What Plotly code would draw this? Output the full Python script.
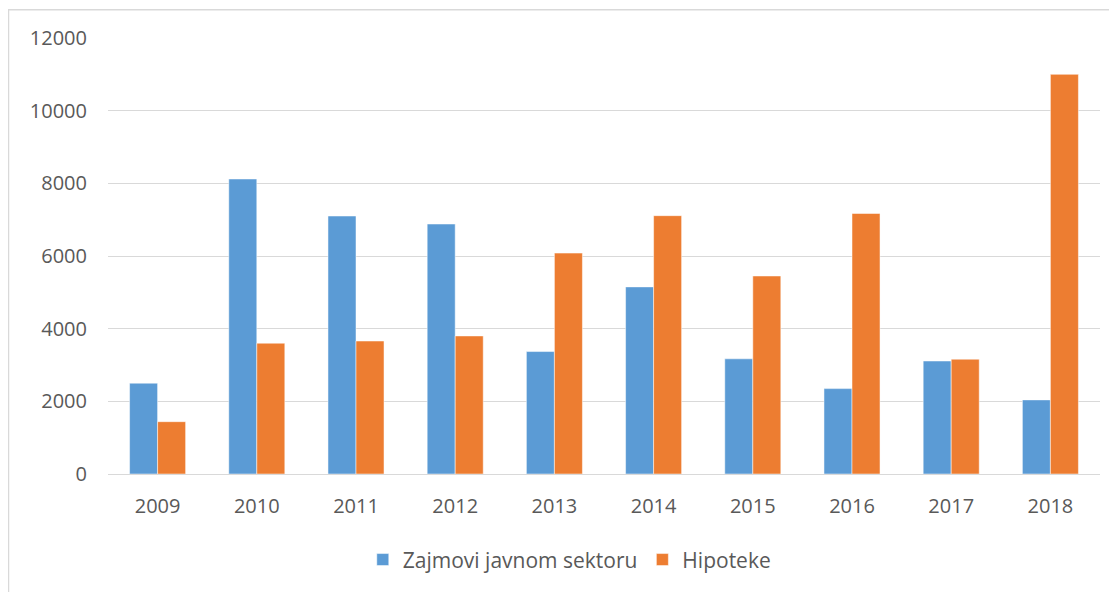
import plotly.graph_objects as go

years = ["2009", "2010", "2011", "2012", "2013", "2014", "2015", "2016", "2017", "2018"]
zajmovi = [2500, 8120, 7100, 6880, 3370, 5150, 3170, 2350, 3110, 2040]
hipoteke = [1440, 3600, 3660, 3800, 6080, 7110, 5450, 7170, 3160, 11000]
y_ticks = [0, 2000, 4000, 6000, 8000, 10000, 12000]

font_family = "Open Sans, Liberation Sans, sans-serif"
text_color = "#595959"

fig = go.Figure()
fig.add_trace(go.Bar(x=years, y=zajmovi, name="Zajmovi javnom sektoru",
                     marker=dict(color="#5B9BD5", line=dict(color="white", width=0.5))))
fig.add_trace(go.Bar(x=years, y=hipoteke, name="Hipoteke",
                     marker=dict(color="#ED7D31", line=dict(color="white", width=0.5))))

fig.update_layout(
    width=1109, height=584,
    margin=dict(l=100, r=17, t=30, b=115),
    plot_bgcolor="white", paper_bgcolor="white",
    barmode="group", bargap=0.435, bargroupgap=0,
    font=dict(family=font_family, size=20, color=text_color),
    showlegend=True,
    legend=dict(orientation="h", x=0.465, xanchor="center", y=-0.15, yanchor="top",
                font=dict(size=21, color=text_color)),
    xaxis=dict(showgrid=False, showline=True, linecolor="#D9D9D9", linewidth=1,
               ticks="", ticklabelstandoff=14, tickfont=dict(size=20, color=text_color)),
    yaxis=dict(range=[0, 12000], tickvals=y_ticks, ticktext=[str(v) for v in y_ticks],
               showgrid=True, gridcolor="#D9D9D9",
               gridwidth=1, zeroline=False, showline=False, ticks="",
               ticklabelstandoff=20,
               tickfont=dict(size=20, color=text_color)),
    shapes=[dict(type="rect", xref="paper", yref="paper",
                 x0=-0.1003, x1=1.03, y0=-0.40, y1=1.065,
                 line=dict(color="#D9D9D9", width=1.5), fillcolor="rgba(0,0,0,0)", layer="below")],
)

fig.write_html("out.html")
